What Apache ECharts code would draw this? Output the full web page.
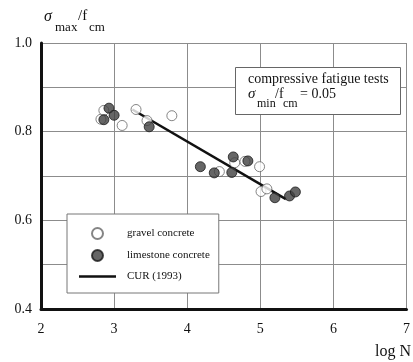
<!DOCTYPE html>
<html>
<head>
<meta charset="utf-8">
<script src="https://cdn.jsdelivr.net/npm/echarts@6/dist/echarts.min.js"></script>
<style>
  html, body { margin: 0; padding: 0; background: #fff; }
  #chart { width: 413px; height: 362px; }
</style>
</head>
<body>
<div id="chart"></div>
<script>
// Compressive fatigue tests: log N versus sigma_max / f_cm
const gravelLogN   = [2.82, 2.86, 3.11, 3.30, 3.45, 3.79, 4.44, 4.65, 4.79, 4.99, 5.01, 5.09];
const gravelRatio  = [0.828, 0.848, 0.814, 0.850, 0.825, 0.836, 0.710, 0.730, 0.733, 0.721, 0.665, 0.671];
const limeLogN     = [2.93, 3.00, 2.86, 3.48, 4.18, 4.37, 4.63, 4.61, 4.83, 5.20, 5.40, 5.48];
const limeRatio    = [0.853, 0.837, 0.827, 0.811, 0.721, 0.707, 0.743, 0.708, 0.734, 0.651, 0.655, 0.664];
const curLogN      = [3.25, 5.35];
const curRatio     = [0.850, 0.648];
const xTicks       = [2, 3, 4, 5, 6, 7];
const yTicks       = [0.4, 0.6, 0.8, 1.0];

const zip = (a, b) => a.map((v, i) => [v, b[i]]);
const serif = '"Liberation Serif", "DejaVu Serif", serif';
// long thin bar used as the legend marker of the design line (37 x 11 box)
const barIcon = 'path://M0,0 L0.1,0 M0,4.3 L37,4.3 L37,6.7 L0,6.7 Z M0,11 L0.1,11';

const chart = echarts.init(document.getElementById('chart'), null, { renderer: 'canvas' });

chart.setOption({
  animation: false,
  backgroundColor: '#fff',
  grid: { left: 41, right: 1, top: 43, bottom: 53, containLabel: false },
  xAxis: {
    type: 'value',
    min: xTicks[0], max: xTicks[xTicks.length - 1], interval: 1,
    axisLine: { show: true, onZero: false, lineStyle: { color: '#111', width: 3 } },
    axisTick: { show: false },
    axisLabel: { color: '#111', fontFamily: serif, fontSize: 14, margin: 13,
                 formatter: v => xTicks.includes(v) ? String(v) : '' },
    splitLine: { show: true, lineStyle: { color: '#8c8c8c', width: 1 } }
  },
  yAxis: {
    type: 'value',
    min: 0.4, max: 1.0, interval: 0.1,
    axisLine: { show: true, onZero: false, lineStyle: { color: '#111', width: 3 } },
    axisTick: { show: false },
    axisLabel: { color: '#111', fontFamily: serif, fontSize: 14, margin: 9,
                 formatter: v => yTicks.some(t => Math.abs(t - v) < 1e-6) ? v.toFixed(1) : '' },
    splitLine: { show: true, lineStyle: { color: '#8c8c8c', width: 1 } }
  },
  legend: {
    orient: 'vertical',
    left: 67, top: 214,
    padding: [13, 9, 11, 12],
    itemGap: 9,
    itemWidth: 37, itemHeight: 11,
    backgroundColor: '#fff',
    borderColor: '#777', borderWidth: 1,
    textStyle: { fontFamily: serif, fontSize: 11, color: '#111', padding: [0, 0, 0, 6] },
    data: [
      { name: 'gravel concrete' },
      { name: 'limestone concrete' },
      { name: 'CUR (1993)', icon: barIcon }
    ]
  },
  series: [
    {
      name: 'CUR (1993)', type: 'line', symbol: 'none',
      data: zip(curLogN, curRatio),
      lineStyle: { color: '#111', width: 2.5 }, itemStyle: { color: '#111' }, z: 2
    },
    {
      name: 'gravel concrete', type: 'scatter', symbol: 'circle', symbolSize: 10,
      data: zip(gravelLogN, gravelRatio),
      itemStyle: { color: '#fff', borderColor: '#666', borderWidth: 1 }, z: 3
    },
    {
      name: 'limestone concrete', type: 'scatter', symbol: 'circle', symbolSize: 10,
      data: zip(limeLogN, limeRatio),
      itemStyle: { color: '#404040', borderColor: '#1a1a1a', borderWidth: 1 }, z: 4
    }
  ],
  graphic: [
    // y-axis title: sigma_max / f_cm
    { type: 'text', left: 44, top: 9, style: { text: 'σ', font: 'italic 16px ' + serif, fill: '#111' } },
    { type: 'text', left: 55, top: 21, style: { text: 'max', font: '13px ' + serif, fill: '#111' } },
    { type: 'text', left: 78, top: 9, style: { text: '/f', font: '15px ' + serif, fill: '#111' } },
    { type: 'text', left: 89, top: 21, style: { text: 'cm', font: '13px ' + serif, fill: '#111' } },
    // x-axis title
    { type: 'text', left: 375, top: 344, style: { text: 'log N', font: '16px ' + serif, fill: '#111' } },
    // test-condition box
    { type: 'rect', shape: { x: 235.5, y: 67.5, width: 165, height: 47 },
      style: { fill: '#fff', stroke: '#666', lineWidth: 1 }, z: 10 },
    { type: 'text', left: 248, top: 72, z: 11,
      style: { text: 'compressive fatigue tests', font: '14px ' + serif, fill: '#111' } },
    { type: 'text', left: 248, top: 87, z: 11, style: { text: 'σ', font: 'italic 15px ' + serif, fill: '#111' } },
    { type: 'text', left: 257, top: 98, z: 11, style: { text: 'min', font: '12px ' + serif, fill: '#111' } },
    { type: 'text', left: 275, top: 87, z: 11, style: { text: '/f', font: '14px ' + serif, fill: '#111' } },
    { type: 'text', left: 283, top: 98, z: 11, style: { text: 'cm', font: '12px ' + serif, fill: '#111' } },
    { type: 'text', left: 300, top: 87, z: 11, style: { text: '= 0.05', font: '14px ' + serif, fill: '#111' } }
  ]
});
</script>
</body>
</html>
